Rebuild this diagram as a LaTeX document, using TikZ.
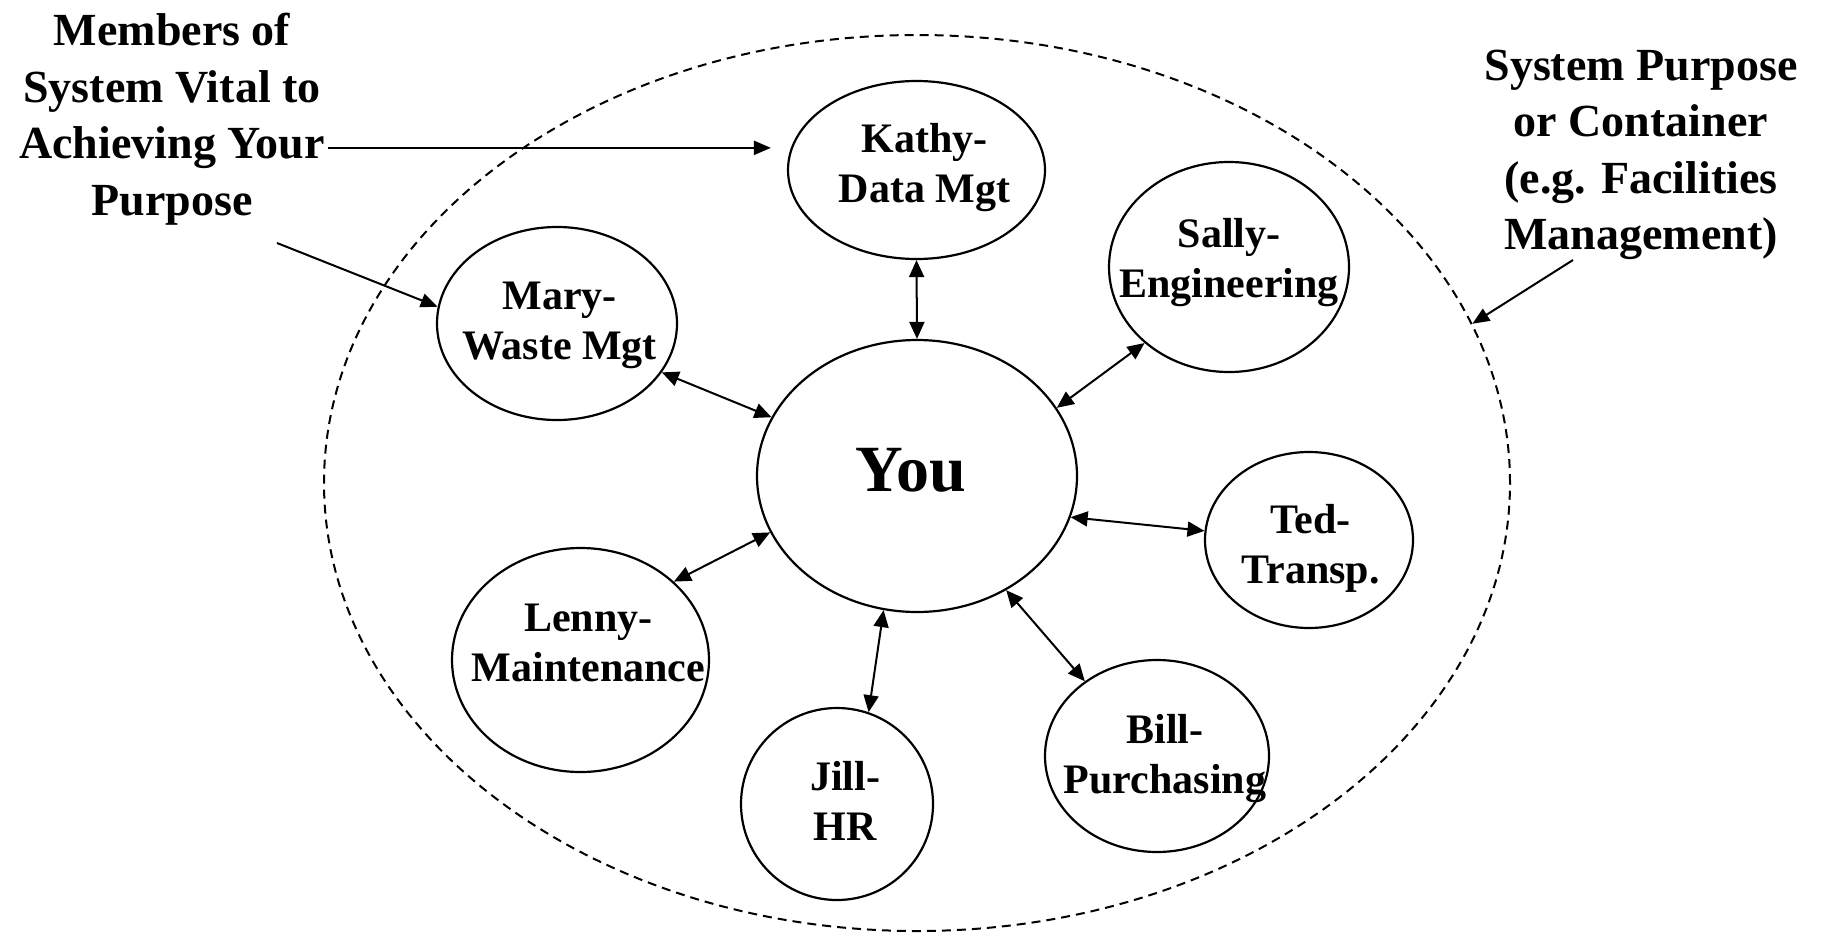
\documentclass[tikz,border=0pt]{standalone}
\usepackage{fontspec}
\setmainfont{Liberation Serif}
\usetikzlibrary{arrows.meta,shapes.geometric}
\begin{document}
\begin{tikzpicture}[x=1pt,y=-1pt,
  member/.style={ellipse, draw, line width=2.2pt, inner sep=0pt},
  container/.style={ellipse, draw, line width=2pt, dash pattern=on 9pt off 6pt, inner sep=0pt},
  txt/.style={align=center, font=\bfseries\fontsize{42}{50}\selectfont},
  youtxt/.style={font=\bfseries\fontsize{66}{79}\selectfont},
  big/.style={align=center, font=\bfseries\fontsize{46}{56.5}\selectfont},
  link/.style={line width=2pt, {Triangle[length=17pt,width=15pt]}-{Triangle[length=17pt,width=15pt]}},
  annot/.style={line width=2pt, -{Triangle[length=17pt,width=14pt]}},
]
\useasboundingbox (0,0) rectangle (1825,932);

% container
\node[container, minimum width=1186, minimum height=896] (cont) at (917,483) {};

% members
\node[member, minimum width=320, minimum height=272,
  label={[youtxt, xshift=-6, yshift=6]center:You}] (you) at (917,476) {};
\node[member, minimum width=257, minimum height=178,
  label={[txt, xshift=8, yshift=2.5]center:{Kathy-\\Data Mgt}}] (kathy) at (916.5,170) {};
\node[member, minimum width=240, minimum height=193,
  label={[txt, xshift=2.5, yshift=-2]center:{Mary-\\Waste Mgt}}] (mary) at (557,323.5) {};
\node[member, minimum width=240, minimum height=210,
  label={[txt, yshift=4.5]center:{Sally-\\Engineering}}] (sally) at (1229,267) {};
\node[member, minimum width=208, minimum height=176,
  label={[txt, xshift=1.5, yshift=-8.5]center:{Ted-\\Transp.}}] (ted) at (1309,540) {};
\node[member, minimum width=257, minimum height=224,
  label={[txt, xshift=8, yshift=17]center:{Lenny-\\Maintenance}}] (lenny) at (580.5,660) {};
\node[member, minimum width=192, minimum height=192,
  label={[txt, xshift=8, yshift=3]center:{Jill-\\HR}}] (jill) at (837,804) {};
\node[member, minimum width=224, minimum height=192,
  label={[txt, xshift=8, yshift=-2.5]center:{Bill-\\Purchasing}}] (bill) at (1157,756) {};

% side texts
\node[big] (members) at (172,119) {Members of\\System Vital to\\Achieving Your\\Purpose};
\node[big] (system) at (1641,155) {System Purpose\\or Container\\(e.g. Facilities\\Management)};

% links
\draw[link] (kathy.270) -- (you.90);
\draw[link] (mary.335) -- (you.158.3);
\draw[link] (sally.222.4) -- (you.26.7);
\draw[link] (ted.175.6) -- (you.345.7);
\draw[link] (lenny.40.1) -- (you.201.5);
\draw[link] (jill.71.2) -- (you.256.5);
\draw[link] (bill.134.6) -- (you.308.6);

% annotation arrows
\coordinate (mstart) at (277,243);
\coordinate (sstart) at (1573,260);
\draw[annot, shorten >=20pt] (members.east |- kathy.170) -- (kathy.170);
\draw[annot] (mstart) -- (mary.172.6);
\draw[annot] (sstart) -- (cont.16.2);
\end{tikzpicture}
\end{document}
